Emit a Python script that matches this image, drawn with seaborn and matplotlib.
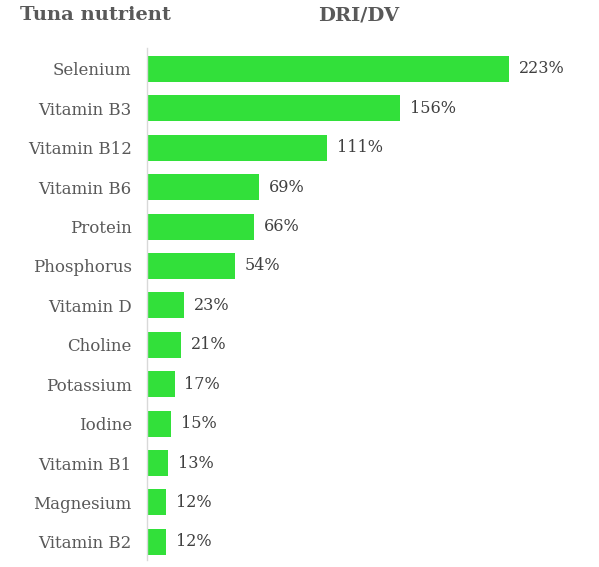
import matplotlib
matplotlib.use('Agg')
import matplotlib.pyplot as plt
import seaborn as sns
import pandas as pd

# 数据
nutrients = ['Selenium', 'Vitamin B3', 'Vitamin B12', 'Vitamin B6', 'Protein',
             'Phosphorus', 'Vitamin D', 'Choline', 'Potassium', 'Iodine',
             'Vitamin B1', 'Magnesium', 'Vitamin B2']
dri_dv = [223, 156, 111, 69, 66, 54, 23, 21, 17, 15, 13, 12, 12]

df = pd.DataFrame({'nutrient': nutrients, 'dri': dri_dv})

sns.set_style('white')
plt.rcParams['font.family'] = ['DejaVu Serif']

fig = plt.figure(figsize=(5.99, 5.67), dpi=100)
ax = fig.add_axes([147 / 599, 1 - 560 / 567, 1 - 147 / 599, 512 / 567])

sns.barplot(data=df, x='dri', y='nutrient', color='#32E03A', saturation=1,
            width=0.66, linewidth=0, ax=ax)

# 数值标签
for i, v in enumerate(dri_dv):
    ax.text(v + 6, i, f'{v}%', va='center', ha='left', fontsize=11.5, color='#404040')

ax.set_xlim(0, (599 - 147) / 1.623)
ax.set_ylim(len(nutrients) - 0.54, -0.53)
ax.set_xlabel('')
ax.set_ylabel('')
ax.set_xticks([])
ax.tick_params(axis='y', length=0, pad=11, labelsize=12, labelcolor='#595959')
for s in ['top', 'right', 'bottom']:
    ax.spines[s].set_visible(False)
ax.spines['left'].set_color('#d9d9d9')
ax.spines['left'].set_linewidth(1)

fig.text(20 / 599, 1 - 15 / 567, 'Tuna nutrient', fontsize=14, fontweight='bold',
         color='#595959', va='center', ha='left')
fig.text(359 / 599, 1 - 15 / 567, 'DRI/DV', fontsize=14, fontweight='bold',
         color='#595959', va='center', ha='center')

fig.savefig('out.png', dpi=100)
